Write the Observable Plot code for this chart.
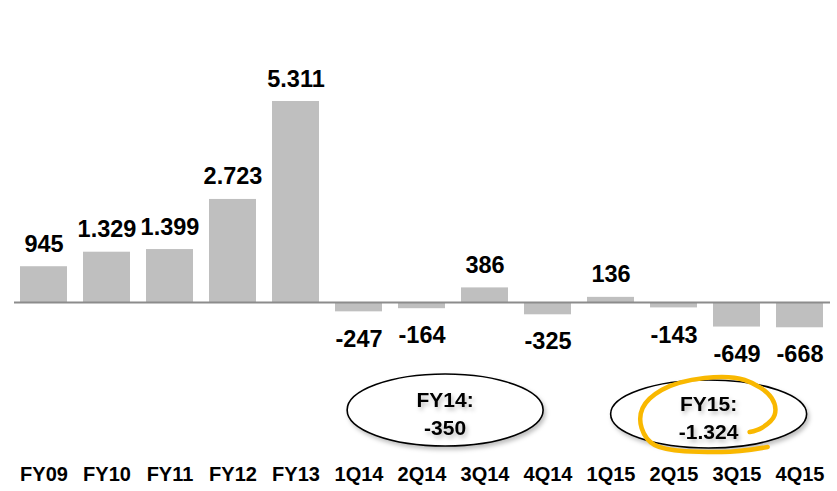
<!DOCTYPE html>
<html>
<head>
<meta charset="utf-8">
<script src="https://cdn.jsdelivr.net/npm/d3@7"></script>
<script src="https://cdn.jsdelivr.net/npm/@observablehq/plot@0.6"></script>
<style>
  html, body { margin: 0; padding: 0; background: #fff; }
</style>
</head>
<body>
<div id="chart"></div>
<script>
const categories = ["FY09","FY10","FY11","FY12","FY13","1Q14","2Q14","3Q14","4Q14","1Q15","2Q15","3Q15","4Q15"];
const values = [945, 1329, 1399, 2723, 5311, -247, -164, 386, -325, 136, -143, -649, -668];
const valueLabels = ["945","1.329","1.399","2.723","5.311","-247","-164","386","-325","136","-143","-649","-668"];
const summaryTitles = ["FY14:", "FY15:"];
const summaryValues = ["-350", "-1.324"];
const summaryFrom = ["1Q14", "1Q15"];
const summaryTo = ["4Q14", "4Q15"];

const data = categories.map((c, i) => ({cat: c, value: values[i], label: valueLabels[i]}));

const FONT = "'Liberation Sans', Arial, Helvetica, sans-serif";

function annotations(index, scales) {
  const x = scales.x;
  const step = x(categories[1]) - x(categories[0]);
  const bw = step * 0.75;
  const shifts = [-8, 3.5];
  const cyOff = [108, 112];
  const y0 = scales.y(0);
  const g = d3.create("svg:g");
  const defs = g.append("defs");
  const f = defs.append("filter").attr("id", "shadow").attr("x", "-20%").attr("y", "-30%").attr("width", "140%").attr("height", "160%");
  f.append("feDropShadow").attr("dx", 2).attr("dy", 3).attr("stdDeviation", 2).attr("flood-color", "#000").attr("flood-opacity", 0.25);
  summaryTitles.forEach((t, i) => {
    const cx = (x(summaryFrom[i]) + x(summaryTo[i]) + bw) / 2 + shifts[i];
    const cy = y0 + cyOff[i];
    g.append("ellipse")
      .attr("cx", cx).attr("cy", cy)
      .attr("rx", 98).attr("ry", i === 0 ? 36 : 34)
      .attr("fill", "#fff").attr("stroke", "#000").attr("stroke-width", 1.6)
      .attr("filter", "url(#shadow)");
    const tg = g.append("g").attr("filter", "url(#shadow)")
      .attr("font-family", FONT).attr("font-weight", "bold").attr("font-size", 21)
      .attr("text-anchor", "middle").attr("fill", "#000");
    tg.append("text").attr("x", cx).attr("y", cy - 3).text(t);
    tg.append("text").attr("x", cx).attr("y", cy + 25).text(summaryValues[i]);
    if (i === 1) {
      const pts = [[59,33],[13,38],[-54,31],[-67,14],[-66,-6],[-47,-24],[-4,-36],[36,-34],[63,-16],[66,1],[53,14],[41,18]];
      const line = d3.line().curve(d3.curveCatmullRom.alpha(0.5));
      g.append("path")
        .attr("d", line(pts.map(([a, b]) => [cx + a, cy + b])))
        .attr("fill", "none").attr("stroke", "#F9B800").attr("stroke-width", 4.5)
        .attr("stroke-linecap", "round");
    }
  });
  return g.node();
}

const chart = Plot.plot({
  width: 837,
  height: 491,
  marginLeft: 14,
  marginRight: 7,
  marginTop: 0,
  marginBottom: 33,
  style: {fontFamily: FONT, background: "#fff", color: "#000"},
  x: {domain: categories, paddingInner: 0.25, paddingOuter: 0.1, label: null},
  y: {domain: [0, 5311], range: [302, 101], axis: null},
  marks: [
    Plot.barY(data, {x: "cat", y: "value", fill: "#bfbfbf"}),
    Plot.ruleY([0], {stroke: "#8c8c8c", strokeWidth: 2}),
    Plot.text(data.filter(d => d.value >= 0), {x: "cat", y: "value", text: "label", lineAnchor: "bottom", dy: -15, fontSize: 23.5, fontWeight: "bold", fill: "#000"}),
    Plot.text(data.filter(d => d.value < 0), {x: "cat", y: "value", text: "label", lineAnchor: "top", dy: 18, fontSize: 23.5, fontWeight: "bold", fill: "#000"}),
    Plot.axisX({tickSize: 0, tickPadding: 8, fontSize: 20, fontWeight: "bold", fill: "#000", label: null}),
    annotations
  ]
});
document.getElementById("chart").appendChild(chart);
</script>
</body>
</html>
